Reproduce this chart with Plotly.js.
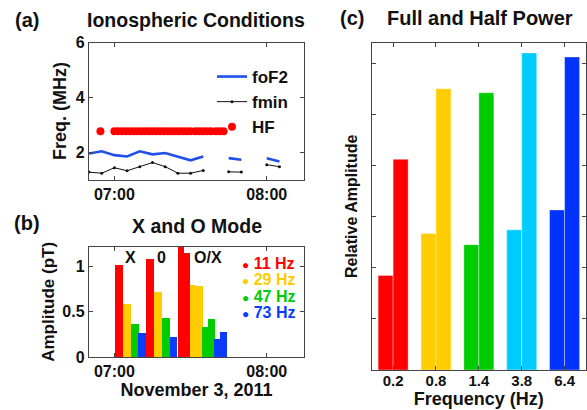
<!DOCTYPE html>
<html><head><meta charset="utf-8">
<script src="https://cdn.plot.ly/plotly-3.0.1.min.js"></script>
<style>html,body{margin:0;padding:0;background:#fff}#chart{width:587px;height:410px}</style>
</head><body><div id="chart"></div>
<script>
// ---------- Panel (a): ionospheric conditions ----------
const timesA = ["06:50","06:55","07:00","07:05","07:10","07:15","07:20","07:25","07:30","07:35","07:40","07:45","07:50","07:55","08:00","08:05"];
const foF2 = [1.95,2.03,1.89,1.84,2.03,1.92,1.97,1.83,1.70,1.84,null,1.78,1.72,null,1.78,1.66];
const fmin = [1.27,1.23,1.43,1.32,1.47,1.62,1.47,1.23,1.23,1.33,null,1.28,1.27,null,1.54,1.47];
const hfTimes = ["06:54:30","07:00:00","07:01:30","07:03:00","07:04:30","07:06:00","07:07:30","07:09:00","07:10:30","07:12:00","07:13:30","07:15:00","07:16:30","07:18:00","07:19:30","07:21:00","07:22:30","07:24:00","07:25:30","07:27:00","07:28:30","07:30:00","07:32:00","07:33:30","07:35:00","07:36:30","07:38:00","07:40:00","07:41:30","07:43:00"];
const hfFreq = [2.76,2.76,2.76,2.76,2.76,2.76,2.76,2.76,2.76,2.76,2.76,2.76,2.76,2.76,2.76,2.76,2.76,2.76,2.76,2.76,2.76,2.76,2.76,2.76,2.76,2.76,2.76,2.76,2.76,2.76];

// ---------- Panel (b): X and O mode amplitudes (pT) ----------
const bLabels = ["11 Hz","29 Hz","47 Hz","73 Hz"];
const bTimes11 = ["07:01:48","07:14:06","07:26:06","07:28:30"];
const bAmp11 = [1.02,1.085,1.23,1.15];
const bTimes29 = ["07:04:54","07:17:06","07:31:00","07:33:30"];
const bAmp29 = [0.585,0.72,0.80,0.78];
const bTimes47 = ["07:08:12","07:20:12","07:35:48","07:38:12"];
const bAmp47 = [0.363,0.433,0.333,0.42];
const bTimes73 = ["07:10:54","07:23:12","07:40:36","07:43:00"];
const bAmp73 = [0.267,0.219,0.20,0.278];
const modeLabels = ["X","0","O/X"];
const modeTimes = ["07:06:12","07:18:40","07:37:00"];

// ---------- Panel (c): full and half power ----------
const cFreqs = ["0.2","0.8","1.4","3.8","6.4"];
const cHalf = [1.85,2.67,2.45,2.74,3.13];
const cFull = [4.12,5.50,5.42,6.20,6.12];

const day = "2011-11-03 ";
const T = a => a.map(t => t == null ? null : day + (t.length === 5 ? t + ":00" : t));

const FONT = "Liberation Sans, Arial, Helvetica, sans-serif";
const colB = ["#ff0000","#ffcc00","#00cc00","#0a3cff"];
const colC = ["#ff0000","#ffcc00","#00cc00","#00ccff","#0033ff"];
const W = 587, H = 410;
const px = v => v / W, py = v => 1 - v / H;

const traces = [
  {x: T(timesA), y: foF2, type: "scatter", mode: "lines", name: "foF2", legendgroup: "a1",
   line: {color: "#1f4fe8", width: 2.6}, xaxis: "x", yaxis: "y"},
  {x: T(timesA), y: fmin, type: "scatter", mode: "lines+markers", name: "fmin", legendgroup: "a2",
   line: {color: "#111", width: 1}, marker: {size: 3, color: "#111"}, xaxis: "x", yaxis: "y"},
  {x: T(hfTimes), y: hfFreq, type: "scatter", mode: "markers", name: "HF", legendgroup: "a3",
   marker: {size: 8, color: "#ff0000"}, xaxis: "x", yaxis: "y"}
];

const bSets = [[bTimes11,bAmp11],[bTimes29,bAmp29],[bTimes47,bAmp47],[bTimes73,bAmp73]];
bSets.forEach((s, i) => {
  const xs = T(s[0]);
  traces.push({x: xs, y: s[1], type: "bar", name: bLabels[i], showlegend: false,
    width: xs.map(t => (t > day + "07:25:00" ? 2.45 : 3.0) * 60000),
    marker: {color: colB[i], line: {width: 0}}, xaxis: "x2", yaxis: "y2"});
});

traces.push({x: cFreqs, y: cHalf, type: "bar", name: "Half power", showlegend: false,
  offset: -0.35, width: 0.35, marker: {color: colC, line: {width: 0.6, color: "rgba(255,255,255,0.6)"}}, xaxis: "x3", yaxis: "y3"});
traces.push({x: cFreqs, y: cFull, type: "bar", name: "Full power", showlegend: false,
  offset: 0, width: 0.35, marker: {color: colC, line: {width: 0.6, color: "rgba(255,255,255,0.6)"}}, xaxis: "x3", yaxis: "y3"});

const tickFont = {family: FONT, size: 16, weight: "bold", color: "#111"};
const frame = {showline: true, linecolor: "#444", linewidth: 1.2, mirror: "allticks",
  ticks: "inside", ticklen: 4, tickcolor: "#444", showgrid: false, zeroline: false, tickfont: tickFont};

const xDom = [px(89), px(304)];
const timeRange = [day + "06:50:00", day + "08:14:40"];
const layout = {
  width: W, height: H, margin: {l: 0, r: 0, t: 0, b: 0}, autosize: false,
  paper_bgcolor: "#fff", plot_bgcolor: "#fff", barmode: "overlay", bargap: 0,
  font: {family: FONT, weight: "bold", color: "#111"},
  showlegend: true,
  legend: {x: px(212), y: py(59), xanchor: "left", yanchor: "top", bgcolor: "rgba(0,0,0,0)",
    font: {family: FONT, size: 17, weight: "bold", color: "#111"}, tracegroupgap: 0, itemwidth: 30},
  xaxis: Object.assign({}, frame, {domain: xDom, anchor: "y", type: "date", range: timeRange,
    tickvals: T(["07:00","08:00"]), ticktext: ["07:00","08:00"]}),
  yaxis: Object.assign({}, frame, {domain: [py(179.5), py(42.7)], anchor: "x", range: [1, 6],
    tickvals: [2,4,6], title: {text: "Freq. (MHz)", font: {family: FONT, size: 18, weight: "bold"}, standoff: 4}}),
  xaxis2: Object.assign({}, frame, {domain: xDom, anchor: "y2", type: "date", range: timeRange,
    tickvals: T(["07:00","08:00"]), ticktext: ["07:00","08:00"],
    title: {text: "November 3, 2011", font: {family: FONT, size: 18, weight: "bold"}, standoff: 1}}),
  yaxis2: Object.assign({}, frame, {domain: [py(357), py(246.7)], anchor: "x2", range: [0, 1.22],
    tickvals: [0, 0.5, 1], ticktext: ["0","0.5","1"],
    title: {text: "Amplitude (pT)", font: {family: FONT, size: 17, weight: "bold"}, standoff: 3}}),
  xaxis3: Object.assign({}, frame, {domain: [px(371.7), px(586)], anchor: "y3", type: "category",
    range: [-0.5, 4.5], tickfont: {family: FONT, size: 15, weight: "bold", color: "#111"},
    ticklabelstandoff: -3,
    title: {text: "Frequency (Hz)", font: {family: FONT, size: 18, weight: "bold"}, standoff: 0}}),
  yaxis3: Object.assign({}, frame, {domain: [py(370), py(42.7)], anchor: "x3", range: [0, 6.4],
    tickvals: [1,2,3,4,5,6], showticklabels: false,
    title: {text: "Relative Amplitude", font: {family: FONT, size: 16, weight: "bold"}, standoff: 8}}),
  annotations: []
};

const ann = (text, x, y, size, extra) => Object.assign({text, x, y, xref: "paper", yref: "paper",
  xanchor: "center", yanchor: "middle", showarrow: false,
  font: {family: FONT, size, weight: "bold", color: "#111"}}, extra || {});
layout.annotations.push(ann("(a)", px(27), py(20), 20));
layout.annotations.push(ann("Ionospheric Conditions", px(196), py(20), 19.5));
layout.annotations.push(ann("(b)", px(27), py(223), 20));
layout.annotations.push(ann("X and O Mode", px(197), py(226), 19.5));
layout.annotations.push(ann("(c)", px(352), py(18), 20));
layout.annotations.push(ann("Full and Half Power", px(480), py(18), 20));
modeLabels.forEach((m, i) => layout.annotations.push({text: m, x: T([modeTimes[i]])[0], y: 1.10,
  xref: "x2", yref: "y2", showarrow: false, xanchor: "center", yanchor: "middle",
  font: {family: FONT, size: 16, weight: "bold", color: "#111"}}));
bLabels.forEach((l, i) => layout.annotations.push(ann(
  '<span style="font-size:12px">●</span> ' + l, px(240), py(263.5 + i * 16.4), 16,
  {xanchor: "left", font: {family: FONT, size: 16, weight: "bold", color: colB[i]}})));

Plotly.newPlot("chart", traces, layout, {staticPlot: true, displayModeBar: false});
</script></body></html>
